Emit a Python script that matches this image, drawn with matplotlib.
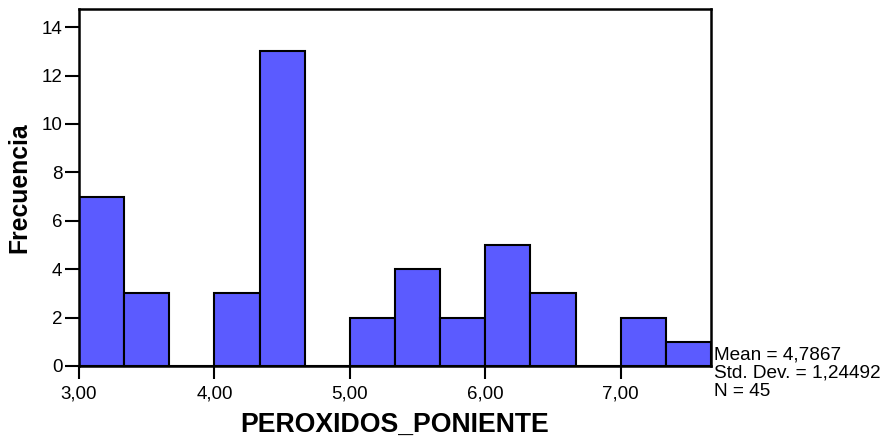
import numpy as np
import matplotlib
matplotlib.use('Agg')
import matplotlib.pyplot as plt

# DATA -----------------------------------------------------------------------+
bin_start = 3.0
bin_width = 1.0 / 3.0
counts = [7, 3, 0, 3, 13, 0, 2, 4, 2, 5, 3, 0, 2, 1]
xticks = [3.0, 4.0, 5.0, 6.0, 7.0]
xtick_labels = ['3,00', '4,00', '5,00', '6,00', '7,00']
yticks = [0, 2, 4, 6, 8, 10, 12, 14]
stats_lines = ['Mean = 4,7867', 'Std. Dev. = 1,24492', 'N = 45']

# PLOT -----------------------------------------------------------------------+
plt.rcParams['font.family'] = ['Liberation Sans', 'DejaVu Sans']

edges = bin_start + bin_width * np.arange(len(counts) + 1)

fig = plt.figure(figsize=(8.9, 4.41), dpi=100)
ax = fig.add_axes([79 / 890, 1 - 366 / 441, (711 - 79) / 890, (366 - 9) / 441])

ax.bar(edges[:-1], counts, width=bin_width, align='edge',
       color='#5b5bff', edgecolor='black', linewidth=1.5, zorder=2)

ax.set_xlim(edges[0], edges[-1])
ax.set_ylim(0, 14.75)
ax.set_xticks(xticks)
ax.set_xticklabels(xtick_labels)
ax.set_yticks(yticks)
ax.tick_params(direction='out', width=1.5, labelsize=13.5)
ax.tick_params(axis='x', length=9, pad=5)
ax.tick_params(axis='y', length=10, pad=2)

for s in ax.spines.values():
	s.set_linewidth(1.8)

ax.set_xlabel('PEROXIDOS_PONIENTE', fontsize=19.2, fontweight='bold', labelpad=7)
ax.set_ylabel('Frecuencia', fontsize=17.8, fontweight='bold', labelpad=7)

fig.text(714 / 890, 1 - 346 / 441, '\n'.join(stats_lines),
         fontsize=13.7, va='top', ha='left', linespacing=1.12)

fig.savefig('out.png', dpi=100)
